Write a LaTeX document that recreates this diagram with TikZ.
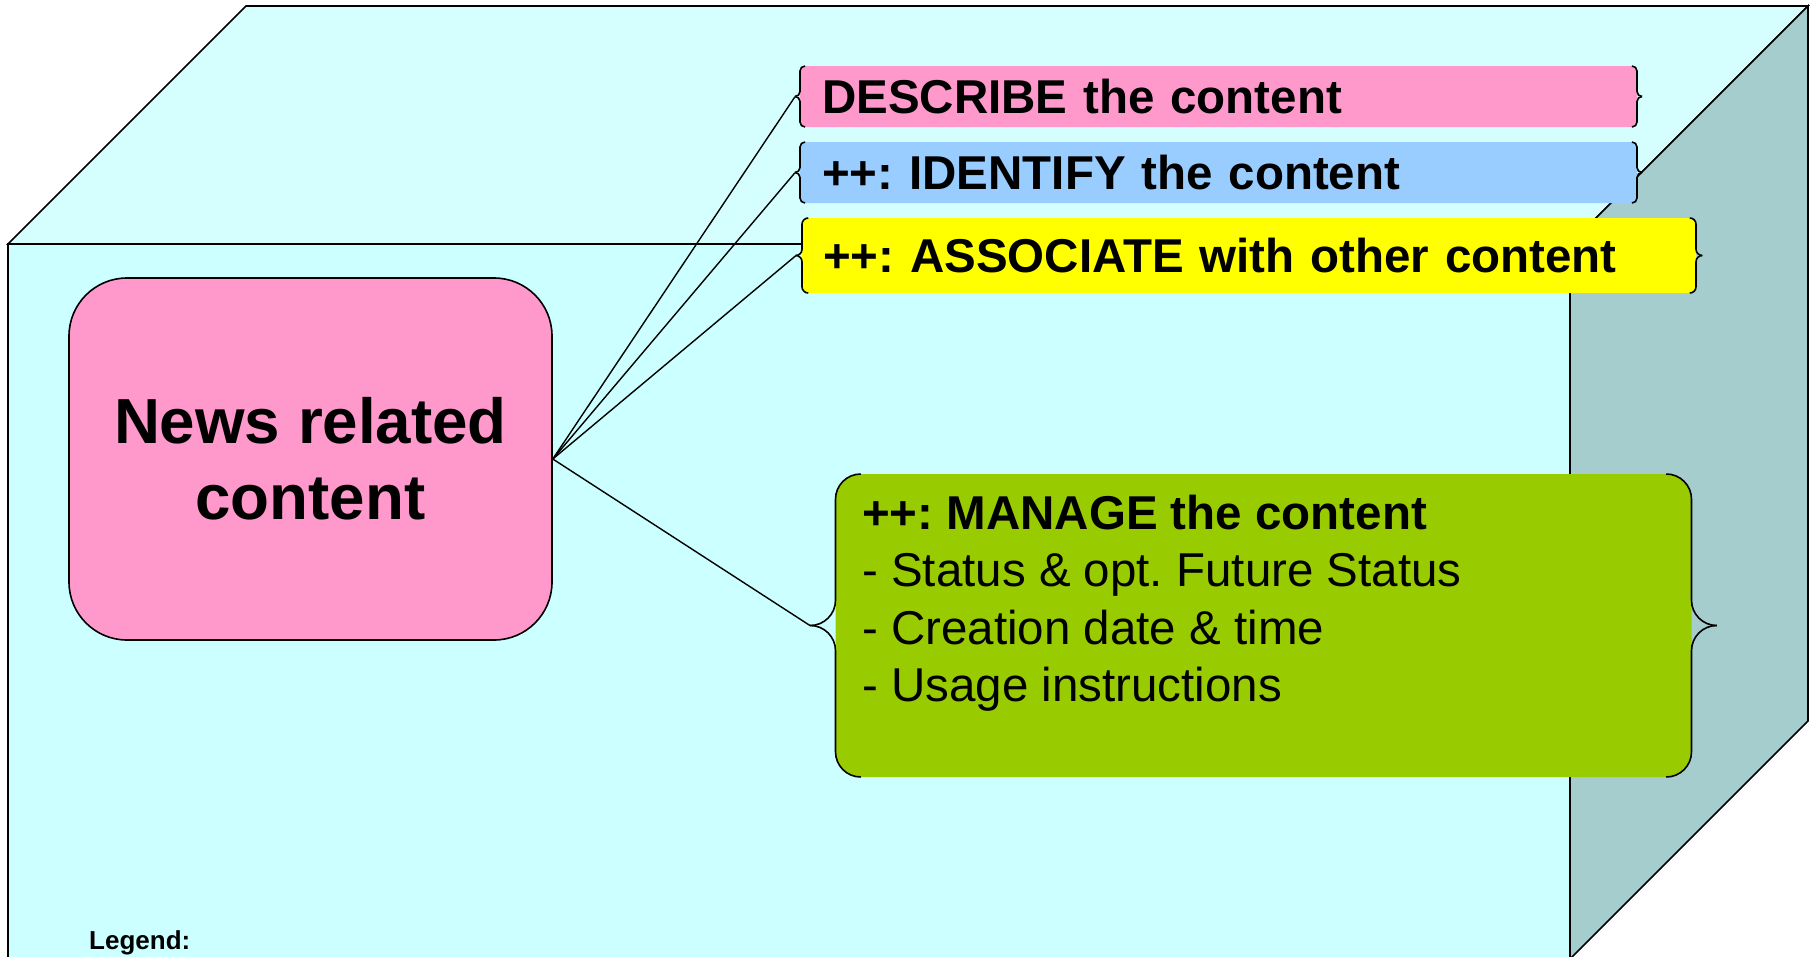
\documentclass[tikz,border=0pt]{standalone}
\usepackage{fontspec}
\setmainfont{Liberation Sans}
\usetikzlibrary{calc}
\frenchspacing
\definecolor{frontc}{HTML}{CCFFFF}
\definecolor{topc}{HTML}{D5FFFF}
\definecolor{sidec}{HTML}{A5CDCD}
\definecolor{pinkc}{HTML}{FF99CC}
\definecolor{bluec}{HTML}{99CCFF}
\definecolor{yellowc}{HTML}{FFFF00}
\definecolor{greenc}{HTML}{99CC00}
% L R T B r : brace pair strokes
\newcommand{\mybracepair}[5]{%
  \pgfmathsetmacro{\bvc}{(#3+#4)/2}%
  \draw[bracestroke, rounded corners=#5pt] (#1+#5,#3) -- (#1,#3) -- (#1,\bvc) -- (#1-#5,\bvc);
  \draw[bracestroke, rounded corners=#5pt] (#1+#5,#4) -- (#1,#4) -- (#1,\bvc) -- (#1-#5,\bvc);
  \draw[bracestroke, rounded corners=#5pt] (#2-#5,#3) -- (#2,#3) -- (#2,\bvc) -- (#2+#5,\bvc);
  \draw[bracestroke, rounded corners=#5pt] (#2-#5,#4) -- (#2,#4) -- (#2,\bvc) -- (#2+#5,\bvc);
}
\begin{document}
\begin{tikzpicture}[x=1pt,y=-1pt,
  edge/.style={draw=black,line width=1.6pt,line join=miter},
  conn/.style={draw=black,line width=1.4pt},
  bracestroke/.style={draw=black,line width=1.6pt},
  bbox/.style={inner ysep=0pt, anchor=north west, align=left,
    font=\fontsize{47.5}{57.5}\selectfont\bfseries, text height=34pt, text depth=0pt},
]
\path[use as bounding box] (0,0) rectangle (1810,956);
\clip (0,0) rectangle (1810,956);
% cube faces
\filldraw[fill=frontc, edge] (8,244) -- (1570,244) -- (1570,970) -- (8,970) -- cycle;
\filldraw[fill=topc, edge] (8,244) -- (246,6) -- (1808,6) -- (1570,244) -- cycle;
\filldraw[fill=sidec, edge] (1570,244) -- (1808,6) -- (1808,721) -- (1570,959) -- cycle;

% main node
\node[fill=pinkc, draw=black, line width=1.6pt, rounded corners=58pt,
      minimum width=483pt, minimum height=362pt, align=center, inner sep=0pt,
      font=\fontsize{63.7}{76}\selectfont\bfseries] (news) at (310.5,459) {News related\\content};

% bracket boxes
\node[bbox, fill=pinkc, rounded corners=5pt, minimum width=837pt, minimum height=61pt,
      text width=793pt, inner xsep=22pt] (desc) at (800,66) {DESCRIBE the content};
\node[bbox, fill=bluec, rounded corners=5pt, minimum width=837pt, minimum height=61pt,
      text width=793pt, inner xsep=22pt] (ident) at (800,142) {++: IDENTIFY the content};
\node[bbox, fill=yellowc, rounded corners=6.25pt, minimum width=894pt, minimum height=75pt,
      text width=852pt, inner xsep=21pt] (assoc) at (802,218) {++: ASSOCIATE with other content};
\node[fill=greenc, rounded corners=25.25pt, minimum width=856pt, minimum height=303pt,
      inner sep=0pt, anchor=north west] (manage) at (835.5,474) {};
\node[anchor=north west, inner sep=0pt, align=left,
      font=\fontsize{47.5}{57.5}\selectfont] (managetext) at (862,494.6)
  {{\bfseries ++: MANAGE the content}\\- Status \& opt. Future Status\\- Creation date \& time\\- Usage instructions};

\mybracepair{800}{1637}{66}{127}{5}
\mybracepair{800}{1637}{142}{203}{5}
\mybracepair{802}{1696}{218}{293}{6.25}
\mybracepair{835.5}{1691.5}{474}{777}{25.25}

\coordinate (descTip) at ($(desc.west)+(-5,0)$);
\coordinate (identTip) at ($(ident.west)+(-5,0)$);
\coordinate (assocTip) at ($(assoc.west)+(-6.25,0)$);
\coordinate (manageTip) at ($(manage.west)+(-25.25,0)$);

\draw[conn] (news.east) -- (descTip);
\draw[conn] (news.east) -- (identTip);
\draw[conn] (news.east) -- (assocTip);
\draw[conn] (news.east) -- (manageTip);

\node[anchor=base west, inner sep=0pt, font=\fontsize{26}{31}\selectfont\bfseries] (legend) at (89,949) {Legend:};
\end{tikzpicture}
\end{document}
